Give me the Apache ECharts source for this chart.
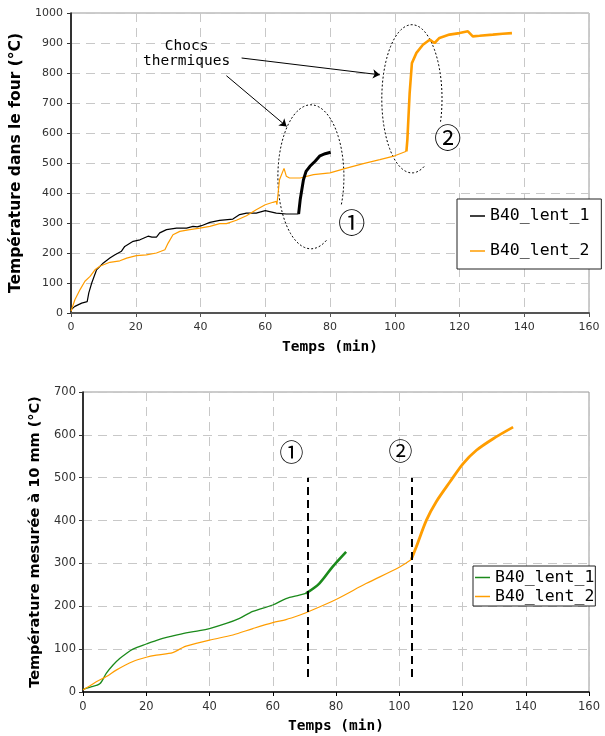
<!DOCTYPE html>
<html><head><meta charset="utf-8">
<script src="https://cdn.jsdelivr.net/npm/echarts@6/dist/echarts.min.js"></script>
<style>html,body{margin:0;padding:0;background:#fff}#c{width:605px;height:736px}</style>
</head><body><div id="c"></div>
<script>
// ---- data (time in min, temperature in °C) ----
const seriesNames = ['B40_lent_1', 'B40_lent_2'];
const fourLent1 = [[0,11],[1.2,22],[3.3,33],[5,38],[5.5,67],[6.4,100],[7.9,144],[10,167],[12,183],[13.6,194],[15.6,206],[16.6,222],[19.2,239],[21.3,244],[23.8,256],[25,253],[26.4,253],[27.4,267],[29.5,278],[32.6,283],[35.7,283],[37.7,289],[39,287],[40.3,291],[42.9,302],[45.9,309],[50,313],[52.1,328],[54.2,333],[57.2,333],[60,341],[63.4,333],[66.5,330],[70.3,330],[70.8,378],[71.8,444],[72.6,472],[73.8,489],[75.4,506],[76.9,524],[78.5,531],[80.2,536]];
const fourLent2 = [[0,6],[1.2,44],[2.8,78],[4.3,106],[5.9,122],[7.4,144],[8.9,156],[12,169],[15.1,174],[17.2,183],[20.2,191],[23.3,194],[26.4,200],[29,211],[30,233],[31.5,261],[33.6,272],[36.7,278],[39.8,283],[42.9,289],[45.9,298],[48,298],[51.1,309],[54.2,324],[57.2,344],[60,361],[62.4,369],[63.4,372],[63.6,361],[64.4,444],[65.8,482],[66.5,456],[67.5,450],[70.8,450],[74.9,461],[80,467],[85.1,483],[90.3,498],[95.4,511],[100,524],[103.6,539],[103.9,578],[104.6,733],[105.3,833],[106.7,867],[108.7,894],[110.8,911],[112.3,900],[113.8,917],[116.9,928],[120,933],[122.6,939],[124.1,922],[126.2,924],[130.3,928],[133.3,931],[136.2,933]];
const mesLent1 = [[0,6],[2.1,11],[5.3,19],[7.4,44],[9.5,63],[11.6,78],[13.7,90],[15.8,100],[20,112],[24.2,123],[27.4,129],[32.6,138],[36.8,143],[40,148],[45.3,160],[49.5,172],[53.7,188],[60,203],[64.2,218],[68.4,226],[70.5,230],[74.7,253],[78.9,292],[83.2,327]];
const mesLent2 = [[0,5],[2.1,14],[4.2,24],[7.4,36],[10.5,51],[15.8,71],[20,81],[23.2,86],[28.4,92],[31.1,102],[32.6,107],[40,121],[47.4,133],[53.7,148],[60,162],[64.2,169],[68.4,179],[70.5,185],[80,216],[89.5,253],[100,291],[103.8,309],[105.4,339],[108.6,401],[111.7,444],[116,490],[120.2,533],[124.4,564],[129.7,591],[136,618]];
// time at which each curve is drawn bold (thermal shock)
const boldFrom = { four1: 70.3, four2: 103.6, mes1: 70.5, mes2: 103.8 };
// shock instants (min) for the bottom chart markers
const shockTimes = [71, 104];

const colBlack = '#000000', colOrange = '#ff9d00', colGreen = '#1b8a1b';

function before(arr, t) { return arr.filter(p => p[0] <= t); }
function after(arr, t) { return arr.filter(p => p[0] >= t); }

const chart = echarts.init(document.getElementById('c'), null, { renderer: 'canvas' });

function xAx(gi, axisCol, axisW, lblSize) {
  return {
    type: 'value', gridIndex: gi, min: 0, max: 160, interval: 20,
    name: 'Temps (min)', nameLocation: 'middle', nameGap: 27,
    nameTextStyle: { fontFamily: 'DejaVu Sans Mono', fontWeight: 'bold', fontSize: 14.5, color: '#000' },
    axisLine: { show: true, lineStyle: { color: axisCol, width: axisW } },
    axisTick: { show: true, length: 4, lineStyle: { color: axisCol } },
    axisLabel: { fontFamily: 'DejaVu Sans', fontSize: lblSize, color: '#333', margin: 9, formatter: v => String(v) },
    splitLine: { show: true, lineStyle: { type: [9, 6], color: '#c8c8c8', width: 1 } }
  };
}
function yAx(gi, max, name, nameSize, gap, lblSize, margin) {
  return {
    type: 'value', gridIndex: gi, min: 0, max: max, interval: 100,
    name: name, nameLocation: 'middle', nameGap: gap,
    nameTextStyle: { fontFamily: 'DejaVu Sans', fontWeight: 'bold', fontSize: nameSize, color: '#000' },
    axisLine: { show: true, lineStyle: { color: '#000', width: 1.5 } },
    axisTick: { show: true, length: 4, lineStyle: { color: '#333' } },
    axisLabel: { fontFamily: 'DejaVu Sans', fontSize: lblSize, color: '#333', margin: margin, formatter: v => String(v) },
    splitLine: { show: true, lineStyle: { type: [9, 6], color: '#c8c8c8', width: 1 } }
  };
}
function line(name, data, color, width, xi, extra) {
  return Object.assign({
    type: 'line', name: name, data: data, xAxisIndex: xi, yAxisIndex: xi,
    showSymbol: false, symbol: 'none', animation: false, silent: true,
    lineStyle: { color: color, width: width }, itemStyle: { color: color },
    emphasis: { disabled: true }
  }, extra || {});
}

const legendCommon = {
  orient: 'vertical', icon: 'rect', itemWidth: 15, itemHeight: 1.5,
  backgroundColor: '#fff', borderColor: '#222', borderWidth: 1, selectedMode: false,
  formatter: n => n.trim(),
  textStyle: { fontFamily: 'DejaVu Sans Mono', fontSize: 16.5, color: '#000' }
};

const option = {
  animation: false,
  backgroundColor: '#fff',
  grid: [
    { left: 71, top: 13, width: 518, height: 300, show: true, borderColor: '#999', borderWidth: 1 },
    { left: 83, top: 392, width: 506, height: 300, show: true, borderColor: '#999', borderWidth: 1 }
  ],
  xAxis: [xAx(0, '#555', 2, 11), xAx(1, '#000', 1.5, 11.5)],
  yAxis: [
    yAx(0, 1000, 'Température dans le four (°C)', 15.5, 40, 11, 8),
    yAx(1, 700, 'Température mesurée à 10 mm (°C)', 14.5, 34, 11.5, 7)
  ],
  legend: [
    Object.assign({}, legendCommon, {
      data: seriesNames, left: 457, top: 199, padding: [8, 12, 9, 13], itemGap: 17,
      textStyle: Object.assign({}, legendCommon.textStyle, { lineHeight: 18 })
    }),
    Object.assign({}, legendCommon, {
      data: seriesNames.map(n => n + ' '), left: 473, top: 566, padding: [3, 1, 1, 2], itemGap: 2,
      textStyle: Object.assign({}, legendCommon.textStyle, { lineHeight: 17 })
    })
  ],
  series: [
    line(seriesNames[0], before(fourLent1, boldFrom.four1), colBlack, 1.2, 0, {
      markLine: {
        silent: true, animation: false, symbol: ['none', 'arrow'], symbolSize: 7,
        label: { show: false }, emphasis: { disabled: true },
        lineStyle: { color: '#000', width: 1, type: 'solid' },
        data: [
          [{ coord: [48, 791] }, { coord: [66.6, 622] }],
          [{ coord: [52.7, 850] }, { coord: [95.4, 794] }]
        ]
      }
    }),
    line(seriesNames[1], before(fourLent2, boldFrom.four2), colOrange, 1.2, 0),
    line('four1_bold', after(fourLent1, boldFrom.four1), colBlack, 3, 0),
    line('four2_bold', after(fourLent2, boldFrom.four2), colOrange, 2.6, 0),
    line(seriesNames[0] + ' ', before(mesLent1, boldFrom.mes1), colGreen, 1.3, 1, { smooth: 0.3 }),
    line(seriesNames[1] + ' ', before(mesLent2, boldFrom.mes2), colOrange, 1.2, 1, {
      smooth: 0.3,
      markLine: {
        silent: true, animation: false, symbol: 'none',
        label: { show: false }, emphasis: { disabled: true },
        lineStyle: { color: '#000', width: 2, type: [8, 5] },
        data: shockTimes.map(t => [{ coord: [t, 35] }, { coord: [t, 500] }])
      }
    }),
    line('mes1_bold', after(mesLent1, boldFrom.mes1), colGreen, 2.6, 1, { smooth: 0.3 }),
    line('mes2_bold', after(mesLent2, boldFrom.mes2), colOrange, 2.8, 1, { smooth: 0.3 })
  ]
};
chart.setOption(option);

// ---- annotations placed from data coordinates ----
function px(gi, p) { return chart.convertToPixel({ gridIndex: gi }, p); }
function ellipse(gi, cx, cy, rx, ry, th0, th1) {
  const c = px(gi, [cx, cy]);
  const rxp = px(gi, [cx + rx, cy])[0] - c[0];
  const ryp = c[1] - px(gi, [cx, cy + ry])[1];
  const pts = [];
  for (let a = th0; a <= th1; a += 3) {
    const r = a * Math.PI / 180;
    pts.push([c[0] + rxp * Math.cos(r), c[1] + ryp * Math.sin(r)]);
  }
  return { type: 'polyline', silent: true, shape: { points: pts },
    style: { stroke: '#000', lineWidth: 1, lineDash: [2, 2], fill: null } };
}
function label(gi, p, text, size, family, lh) {
  const q = px(gi, p);
  return { type: 'text', silent: true, x: q[0], y: q[1],
    style: { text: text, fontSize: size, fontFamily: family, fill: '#000',
      align: 'center', verticalAlign: 'middle', lineHeight: lh || size } };
}
chart.setOption({
  graphic: [
    ellipse(0, 74.1, 454, 10.2, 240, 62, 383),
    ellipse(0, 105.3, 714, 9.3, 247, 66, 378),
    label(0, [35.7, 864], 'Chocs\nthermiques', 14.5, 'DejaVu Sans Mono', 15),
    label(0, [86.7, 300], '①', 27, 'Noto Sans CJK JP'),
    label(0, [116.4, 583], '②', 27, 'Noto Sans CJK JP'),
    label(1, [65.9, 561], '①', 24, 'Noto Sans CJK JP'),
    label(1, [100.4, 562], '②', 24, 'Noto Sans CJK JP')
  ]
});
</script>
</body></html>
